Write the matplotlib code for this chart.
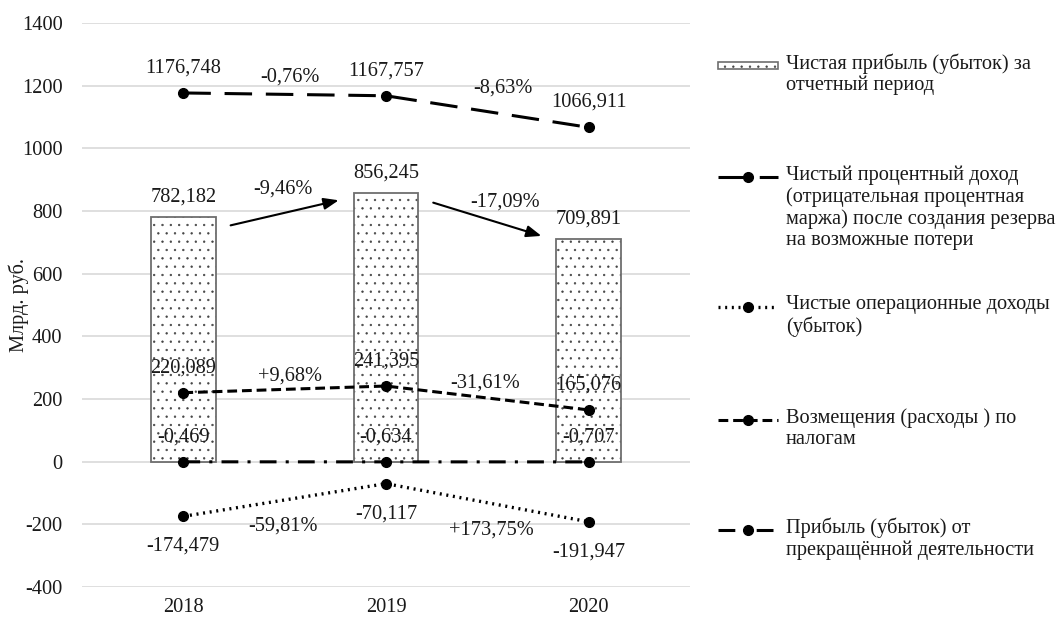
"""Bank financial results 2018-2020: bars for net profit, lines for other items."""

import matplotlib
matplotlib.use("Agg")
import matplotlib.pyplot as plt
from matplotlib.lines import Line2D
from matplotlib.patches import Rectangle

plt.rcParams["font.family"] = ["Liberation Serif", "DejaVu Serif"]
plt.rcParams["axes.unicode_minus"] = False
plt.rcParams["hatch.linewidth"] = 0.45

years = ["2018", "2019", "2020"]
net_profit = [782.182, 856.245, 709.891]
net_interest = [1176.748, 1167.757, 1066.911]
operating = [-174.479, -70.117, -191.947]
taxes = [220.089, 241.395, 165.076]
discontinued = [-0.469, -0.634, -0.707]

profit_pct = ["-9,46%", "-17,09%"]
interest_pct = ["-0,76%", "-8,63%"]
operating_pct = ["-59,81%", "+173,75%"]
taxes_pct = ["+9,68%", "-31,61%"]

legend_labels = [
    "Чистая прибыль (убыток) за\nотчетный период",
    "Чистый процентный доход\n(отрицательная процентная\nмаржа) после создания резерва\nна возможные потери",
    "Чистые операционные доходы\n(убыток)",
    "Возмещения (расходы ) по\nналогам",
    "Прибыль (убыток) от\nпрекращённой деятельности",
]

W, H = 1062, 621
FS = 14.7
TXT = "#1a1a1a"


def fmt(v):
    return f"{v:.3f}".replace(".", ",")


fig = plt.figure(figsize=(W / 100, H / 100), dpi=100)
ax = fig.add_axes([82 / W, 1 - 587 / H, (690 - 82) / W, (587 - 23) / H])

x = list(range(len(years)))

# bars: hatch first, then a grey outline on top
ax.bar(x, net_profit, width=0.32, color="white", edgecolor="#444444", linewidth=0, hatch="..", zorder=2)
ax.bar(x, net_profit, width=0.32, fill=False, edgecolor="#6e6e6e", linewidth=1.3, zorder=3)

styles = [
    (net_interest, dict(dashes=(9, 4.5), lw=2.2)),
    (operating, dict(dashes=(0.6, 1.4), lw=2.4)),
    (taxes, dict(dashes=(3.2, 1.6), lw=2.2)),
    (discontinued, dict(dashes=(5.5, 3, 1, 3), lw=2.2)),
]
for vals, st in styles:
    ax.plot(x, vals, color="black", marker="o", markersize=7, zorder=4, **st)


def label(xv, yv, txt, dx=0, dy=0):
    ax.annotate(txt, (xv, yv), xytext=(dx * 0.72, dy * 0.72), textcoords="offset points",
                ha="center", va="center", fontsize=FS, color=TXT, zorder=6)


for i in x:
    label(i, net_profit[i], fmt(net_profit[i]), dy=20)
    label(i, net_interest[i], fmt(net_interest[i]), dy=25)
    label(i, taxes[i], fmt(taxes[i]), dy=25)
    label(i, discontinued[i], fmt(discontinued[i]), dy=25)
    label(i, operating[i], fmt(operating[i]), dy=-30)


def pct(vals, texts, offsets):
    for i, (t, (dx, dy)) in enumerate(zip(texts, offsets)):
        label(i + 0.5, (vals[i] + vals[i + 1]) / 2, t, dx, dy)


pct(net_interest, interest_pct, [(5, 17), (16, 24)])
pct(operating, operating_pct, [(-2, -26), (4, -27)])
pct(taxes, taxes_pct, [(5, 13), (-2, 15)])

# arrows between bars
arrow_ends = [(-30, -20), (-27, 8)]
for i, (s_off, e_off) in enumerate(arrow_ends):
    ax.annotate("", xy=(i + 0.78, net_profit[i + 1] + e_off), xytext=(i + 0.22, net_profit[i] + s_off),
                arrowprops=dict(arrowstyle="-|>,head_length=0.9,head_width=0.35", color="black", lw=1.5),
                zorder=5)
pct(net_profit, profit_pct, [(-2, 16), (18, 14)])

ax.set_xlim(-0.5, 2.5)
ax.set_ylim(-400, 1400)
ax.set_yticks(range(-400, 1401, 200))
ax.set_xticks(x)
ax.set_xticklabels(years)
ax.tick_params(axis="both", length=0, labelsize=FS, colors=TXT)
ax.tick_params(axis="y", pad=14)
ax.tick_params(axis="x", pad=8)
ax.grid(axis="y", color="#d9d9d9", linewidth=1.2, zorder=0)
ax.set_axisbelow(True)
for s in ax.spines.values():
    s.set_visible(False)
ax.set_ylabel("Млрд. руб.", fontsize=FS, color=TXT)
ax.yaxis.set_label_coords(-0.087, 0.5)

# legend drawn by hand so handles line up with the first text line
leg_y = [65, 177, 307, 420, 530]
hx0, hx1, tx = 718, 778, 786


def fx(p):
    return p / W


def fy(p):
    return 1 - p / H


for k, (lab, yp) in enumerate(zip(legend_labels, leg_y)):
    if k == 0:
        r = Rectangle((fx(hx0), fy(yp + 4)), fx(hx1 - hx0), 7 / H, transform=fig.transFigure,
                      facecolor="white", edgecolor="#444444", hatch="..", linewidth=0)
        fig.add_artist(r)
        r2 = Rectangle((fx(hx0), fy(yp + 4)), fx(hx1 - hx0), 7 / H, transform=fig.transFigure,
                       fill=False, edgecolor="#6e6e6e", linewidth=1.2)
        fig.add_artist(r2)
    else:
        st = styles[k - 1][1]
        fig.add_artist(Line2D([fx(hx0), fx(hx1)], [fy(yp), fy(yp)], transform=fig.transFigure,
                              color="black", **st))
        fig.add_artist(Line2D([fx((hx0 + hx1) / 2)], [fy(yp)], transform=fig.transFigure,
                              color="black", marker="o", markersize=7, linestyle="none"))
    fig.text(fx(tx), fy(yp - 12), lab, ha="left", va="top", fontsize=FS, color=TXT, linespacing=1.17)

fig.savefig("out.png", dpi=100)
